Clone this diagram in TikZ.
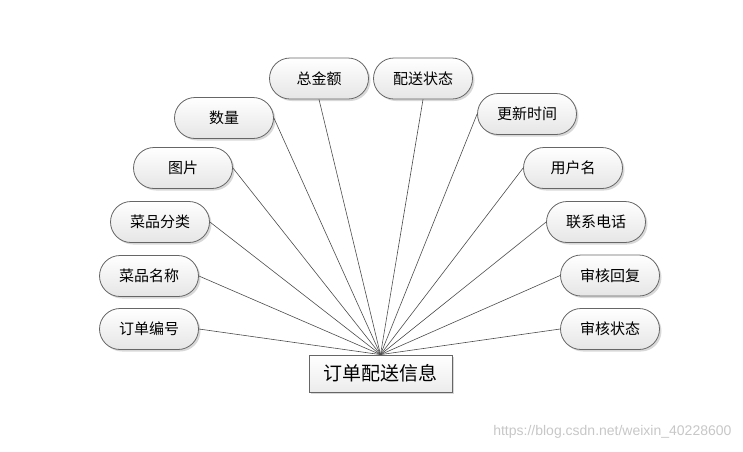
\documentclass[tikz,border=0pt]{standalone}
\usepackage{fontspec}
\setsansfont{Liberation Sans}
\newfontfamily\cjk{Noto Sans CJK SC}
\usetikzlibrary{shapes.misc, shadows}

\begin{document}
\begin{tikzpicture}[
    x=1pt, y=-1pt,
    attr/.style={rounded rectangle, draw=black!60, line width=0.8pt, top color=white, bottom color=gray!20, minimum width=99pt, minimum height=41pt, inner sep=0, font=\cjk\fontsize{15}{18}\selectfont, drop shadow={shadow xshift=2pt, shadow yshift=-2pt, fill=black!30, opacity=0.5}},
    entity/.style={rectangle, draw=black!60, line width=0.8pt, top color=white, bottom color=gray!15, minimum width=143pt, minimum height=37pt, inner sep=0, font=\cjk\fontsize{19}{22}\selectfont, drop shadow={shadow xshift=2pt, shadow yshift=-2pt, fill=black!30, opacity=0.5}},
    link/.style={draw=black!70, line width=0.6pt},
    mark text/.style={font=\sffamily\fontsize{14}{16}\selectfont, text=black!22}
]
    \useasboundingbox (0,0) rectangle (743,451);

    % =========================================================
    % ENTITY AND ITS ATTRIBUTES
    % =========================================================
    \node[entity] (order) at (380.5, 373.5) {订单配送信息};

    \foreach \name/\px/\py/\txt in {
        orderid/149/329/订单编号, dishname/149/276/菜品名称, dishtype/160/222/菜品分类,
        pic/183/168/图片, qty/224/118/数量, total/319/78.5/总金额,
        deliv/423/78.5/配送状态, update/527/114/更新时间, user/573/168/用户名,
        phone/596/222/联系电话, reply/610/275.5/审核回复, audit/610/329/审核状态} {
        \node[attr] (\name) at (\px, \py) {\txt};
    }

    % Connectors to the entity (left side, top, right side)
    \foreach \name in {orderid, dishname, dishtype, pic, qty} {
        \draw[link] (\name.east) -- (order.north);
    }
    \foreach \name in {total, deliv} {
        \draw[link] (\name.south) -- (order.north);
    }
    \foreach \name in {update, user, phone, reply, audit} {
        \draw[link] (\name.west) -- (order.north);
    }

    % Watermark
    \node[mark text, anchor=east] (mark) at (735, 432) {https://blog.csdn.net/weixin\_40228600};

\end{tikzpicture}
\end{document}
